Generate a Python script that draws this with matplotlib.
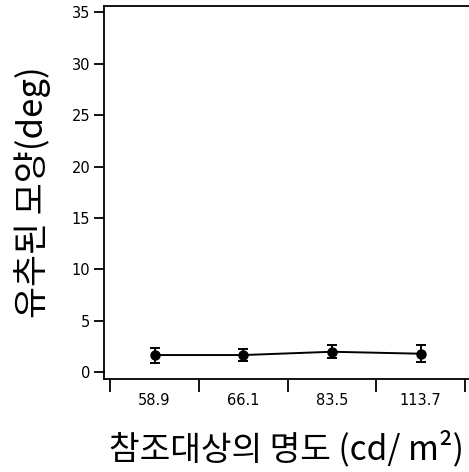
import numpy as np
import matplotlib
matplotlib.use('Agg')
from matplotlib import pyplot as plt
from matplotlib.ticker import FixedLocator

# luminance of the reference object (cd/m^2) and estimated shape (deg)
luminance = ['58.9', '66.1', '83.5', '113.7']
shape_mean = [1.68, 1.68, 2.0, 1.81]
shape_err = [0.73, 0.62, 0.63, 0.8]

KO = ['Noto Sans CJK KR', 'DejaVu Sans']


def main():
    fig = plt.figure(figsize=(4.69, 4.72), dpi=100)
    ax = fig.add_axes([0.222, 0.197, 0.778, 0.790])

    x = np.arange(len(luminance))
    ax.errorbar(x, shape_mean, yerr=shape_err, color='black', lw=1.4,
                marker='o', ms=6.5, capsize=3.5, elinewidth=1.4, capthick=1.4)

    ax.set_xlim(-0.568, 3.545)
    ax.set_ylim(-0.65, 35.6)

    # boundary ticks between categories, labels at the centres
    ax.set_xticks(x)
    ax.set_xticklabels(luminance, fontsize=10.5)
    ax.xaxis.set_minor_locator(FixedLocator(np.arange(-0.5, 4.0, 1.0)))
    ax.tick_params(axis='x', which='major', length=0, pad=10)
    ax.tick_params(axis='x', which='minor', length=9, width=1.3, direction='out')

    ax.set_yticks(np.arange(0, 36, 5))
    ax.tick_params(axis='y', length=7, width=1.3, labelsize=10.5, pad=3)
    # y axis stops at zero; the x axis line sits just below it
    ax.spines['left'].set_bounds(0, 35.6)
    ax.spines['right'].set_visible(False)
    for s in ['left', 'top', 'bottom']:
        ax.spines[s].set_linewidth(1.3)

    # vertical connector from y=0 down to the x axis
    ax.plot([-0.568, -0.568], [-0.65, 0], color='black', lw=1.3, clip_on=False)

    ax.set_ylabel('유추된 모양(deg)', family=KO, fontsize=25, labelpad=15)
    ax.set_xlabel('참조대상의 명도 (cd/ m²)', family=KO, fontsize=24, labelpad=16)

    fig.savefig('out.png', dpi=100)


if __name__ == '__main__':
    main()
